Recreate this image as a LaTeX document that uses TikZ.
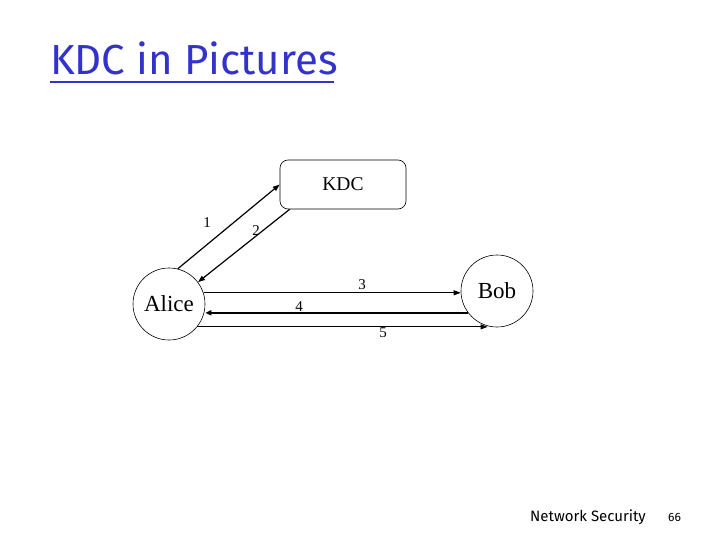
\documentclass[tikz,border=0pt]{standalone}
\usepackage{fontspec}
\setmainfont{Liberation Serif}
\newfontfamily\titlefont{Fira Sans}
\usetikzlibrary{arrows.meta,calc}
\definecolor{titleblue}{RGB}{51,51,204}
\tikzset{
  party/.style={draw, circle, minimum size=72pt, inner sep=0pt, line width=0.6pt, font=\fontsize{23}{25}\selectfont},
  center/.style={draw, rounded corners=8pt, minimum width=126pt, minimum height=49pt, inner sep=0pt, line width=0.6pt, font=\fontsize{19.5}{21}\selectfont},
  msg/.style={-{Triangle[length=7pt,width=5pt]}, line width=0.8pt},
  diag/.style={line width=1.2pt},
  num/.style={font=\fontsize{15}{16}\selectfont, inner sep=0pt},
}
\begin{document}
\begin{tikzpicture}[x=1pt,y=-1pt]
\useasboundingbox (0,0) rectangle (720,540);
% title
\node[anchor=base west, inner sep=0pt, text=titleblue, font=\titlefont\fontsize{42}{46}\selectfont] (title) at (50,75) {KDC in Pictures};
\draw[titleblue, line width=2.5pt] (50,82) -- (334,82);
% nodes
\node[center] (KDC) at (343,184.5) {KDC};
\node[party] (Alice) at (169,304) {Alice};
\node[party] (Bob) at (497,291) {Bob};
% connectors
\draw[msg, diag] (Alice.76) -- (KDC.west);
\draw[msg, diag] ($(KDC.south west)+(10,0)$) -- (Alice.37);
\draw[msg] (Alice.18) -- (Alice.18 -| Bob.west);
\draw[msg, line width=2.2pt, -{Triangle[length=6pt,width=5pt]}] (Bob.217) -- (Bob.217 -| Alice.east);
\draw[msg] (Alice.321) -- (Alice.321 -| Bob.255);
% labels
\node[num] (n1) at (207,223) {1};
\node[num] (n2) at (256,231) {2};
\node[num] (n3) at (362,285) {3};
\node[num] (n4) at (299,307) {4};
\node[num] (n5) at (383,333) {5};
% footer
\node[anchor=base west, inner sep=0pt, font=\titlefont\fontsize{15}{17}\selectfont] (foot) at (530,521) {Network Security};
\node[anchor=base west, inner sep=0pt, font=\titlefont\fontsize{12}{14}\selectfont] (page) at (668,521) {66};
\end{tikzpicture}
\end{document}
